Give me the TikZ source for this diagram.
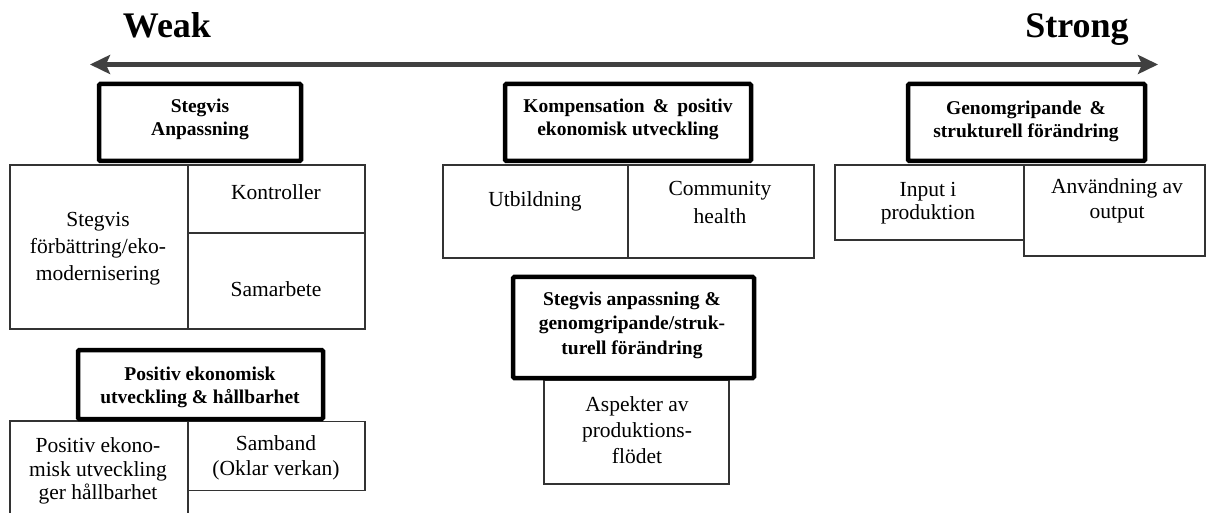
\documentclass[tikz,border=0pt]{standalone}
\usepackage{fontspec}
\setmainfont{Liberation Serif}
\usetikzlibrary{arrows.meta}

\tikzset{
  cell/.style={draw=black!80, line width=1.3pt, fill=white, inner sep=0pt},
  headbox/.style={draw=black, line width=4.5pt, fill=white, rounded corners=1.2pt, inner sep=0pt},
  headtext/.style={font=\fontsize{19.5}{23}\selectfont\bfseries, align=center, inner sep=0pt},
  celltext/.style={font=\fontsize{21.5}{25}\selectfont, align=center, inner sep=0pt},
  poletext/.style={font=\fontsize{36}{42}\selectfont\bfseries, anchor=base, inner sep=0pt},
  rangearrow/.style={draw=black!75, line width=4.5pt,
    {Stealth[length=20pt,width=19pt,inset=4pt]}-{Stealth[length=20pt,width=19pt,inset=4pt]}}
}

\begin{document}
\begin{tikzpicture}[x=1pt,y=-1pt]
\useasboundingbox (0,0) rectangle (1208,513);

% weak-to-strong scale
\node[poletext] (weak) at (167,38) {Weak};
\node[poletext] (strong) at (1077,38) {Strong};
\coordinate (wk) at (90,64.5);
\coordinate (st) at (1158,64.5);
\draw[rangearrow] (wk) -- (st);

% group 1: Stegvis anpassning
\node[cell, minimum width=178pt, minimum height=164pt] (g1l) at (99,247) {};
\node[cell, minimum width=177pt, minimum height=68pt] (g1a) at (276.5,199) {};
\node[cell, minimum width=177pt, minimum height=96pt] (g1b) at (276.5,281) {};
\node[headbox, minimum width=202pt, minimum height=77pt] (h1) at (200,122.5) {};
\node[headtext] (h1t) at (200,119) {Stegvis\\Anpassning};
\node[celltext, font=\fontsize{21.5}{27}\selectfont] (g1lt) at (98,249) {Stegvis\\förbättring/eko-\\modernisering};
\node[celltext] (g1at) at (276,192) {Kontroller};
\node[celltext] (g1bt) at (276,289) {Samarbete};

% group 2: Kompensation
\node[cell, minimum width=185pt, minimum height=93pt] (g2l) at (535.5,211.5) {};
\node[cell, minimum width=186pt, minimum height=93pt] (g2r) at (721,211.5) {};
\node[headbox, minimum width=246pt, minimum height=77pt] (h2) at (628,122.5) {};
\node[headtext] (h2t) at (628,119) {Kompensation \,\&\, positiv\\ekonomisk utveckling};
\node[celltext] (g2lt) at (535,201) {Utbildning};
\node[celltext, font=\fontsize{21.5}{28}\selectfont] (g2rt) at (720,202) {Community\\health};

% group 3: Genomgripande
\node[cell, minimum width=189pt, minimum height=75pt] (g3l) at (929.5,202.5) {};
\node[cell, minimum width=181pt, minimum height=91pt] (g3r) at (1114.5,210.5) {};
\node[headbox, minimum width=237pt, minimum height=77pt] (h3) at (1026.5,122.5) {};
\node[headtext] (h3t) at (1026,121.5) {Genomgripande \,\&\\strukturell förändring};
\node[celltext, font=\fontsize{21.5}{23.5}\selectfont] (g3lt) at (928,203) {Input i\\produktion};
\node[celltext] (g3rt) at (1117,201) {Användning av\\output};

% group 4: Positiv ekonomisk utveckling
\node[cell, minimum width=178pt, minimum height=120pt] (g4l) at (99,481) {};
\node[cell, minimum width=177pt, minimum height=69pt] (g4r) at (276.5,456) {};
\node[headbox, minimum width=245pt, minimum height=69pt] (h4) at (200.5,384.5) {};
\node[headtext] (h4t) at (200,387) {Positiv ekonomisk\\utveckling \& hållbarhet};
\node[celltext, font=\fontsize{21.5}{23.5}\selectfont] (g4lt) at (98,471) {Positiv ekono-\\misk utveckling\\ger hållbarhet};
\node[celltext] (g4rt) at (276,458) {Samband\\(Oklar verkan)};

% group 5: Stegvis anpassning & genomgripande
\node[cell, minimum width=185pt, minimum height=104pt] (g5) at (636.5,432) {};
\node[headbox, minimum width=241pt, minimum height=101pt] (h5) at (633.5,327.5) {};
\node[headtext, font=\fontsize{19.5}{24.5}\selectfont\bfseries] (h5t) at (632,325) {Stegvis anpassning \&\\genomgripande/struk-\\turell förändring};
\node[celltext, font=\fontsize{21.5}{26}\selectfont] (g5t) at (637,430) {Aspekter av\\produktions-\\flödet};
\end{tikzpicture}
\end{document}
